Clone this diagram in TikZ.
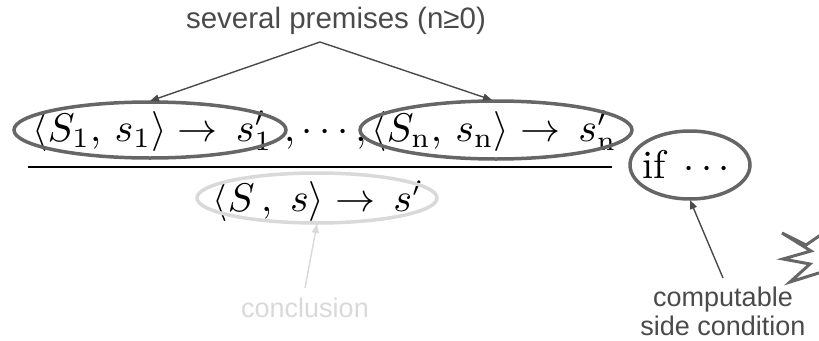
\documentclass[tikz,border=0pt]{standalone}
\usepackage{graphicx}
\usepackage{fontspec}
\newfontfamily\labelfont{Liberation Sans}
\usetikzlibrary{arrows.meta}
\definecolor{ringgray}{HTML}{666666}
\definecolor{lightring}{HTML}{D9D9D9}
\definecolor{labelgray}{HTML}{4A4A4A}
\newcommand{\bigmath}[1]{\scalebox{4}{$#1$}}
\tikzset{
  lightringstyle/.style={draw=lightring, line width=3.5pt},
  mathtext/.style={inner sep=0pt, anchor=base west},
  lbl/.style={font=\labelfont\fontsize{27}{30}\selectfont, text=labelgray, inner sep=0pt, align=center},
  pointer/.style={draw=labelgray, line width=1.4pt, -{Triangle[length=9pt,width=7pt]}},
}
\begin{document}
\begin{tikzpicture}[x=1pt,y=-1pt]
\useasboundingbox (0,0) rectangle (819,340);
% texts
\node[lbl, font=\labelfont\fontsize{29.5}{32}\selectfont] (prem) at (336,21) {several premises (n≥0)};
\node[mathtext] (p1) at (32,141) {\bigmath{\langle S_1,\, s_1\rangle \to\, s'_1}};
\node[mathtext] (dots) at (284,141) {\bigmath{,\cdots,}};
\node[mathtext] (p2) at (371,141) {\bigmath{\langle S_{\mathrm{n}},\, s_{\mathrm{n}}\rangle \to\, s'_{\mathrm{n}}}};
\node[mathtext] (concl) at (212,211) {\bigmath{\langle S\,,\; s\rangle \to\, s'}};
\node[mathtext] (cond) at (642,178) {\bigmath{\mbox{if}\;\cdots}};
\node[lbl, text=lightring] (conclbl) at (305,308) {conclusion};
\node[lbl] (sidelbl) at (723,311) {computable\\[-1pt]side condition};
% ellipses
\draw[draw=ringgray, line width=3.5pt] (150,130) ellipse [x radius=136, y radius=28];
\draw[draw=ringgray, line width=3.5pt] (496,130) ellipse [x radius=136, y radius=29];
\draw[draw=ringgray, line width=3.5pt] (690,165) ellipse [x radius=60, y radius=34];
\draw[lightringstyle] (317,198) ellipse [x radius=120, y radius=25];
\coordinate (e1top) at (150,101);
\coordinate (e2top) at (492,100);
\coordinate (apex) at (320,42);
\coordinate (e3bot) at (690,200);
\coordinate (e4bot) at (317,224);
\coordinate (cfoot) at (305,288);
\coordinate (sfoot) at (723,278);
% rule line
\coordinate (ruleL) at (28,167);
\coordinate (ruleR) at (612,167);
\draw[line width=2.8pt] (ruleL) -- (ruleR);
% pointers
\draw[pointer] (apex) -- (e1top);
\draw[pointer] (apex) -- (e2top);
\draw[pointer] (sfoot) -- (e3bot);
\draw[draw=lightring, line width=1.4pt, -{Triangle[length=9pt,width=7pt]}] (cfoot) -- (e4bot);
% partial burst at right edge
\begin{scope}
\clip (0,0) rectangle (819,340);
\draw[draw=ringgray, line width=3pt, line join=miter] (822,234) -- (806,245) -- (782,233) -- (811,251) -- (783,259) -- (810,264) -- (790,282) -- (822,272);
\end{scope}
\end{tikzpicture}
\end{document}
